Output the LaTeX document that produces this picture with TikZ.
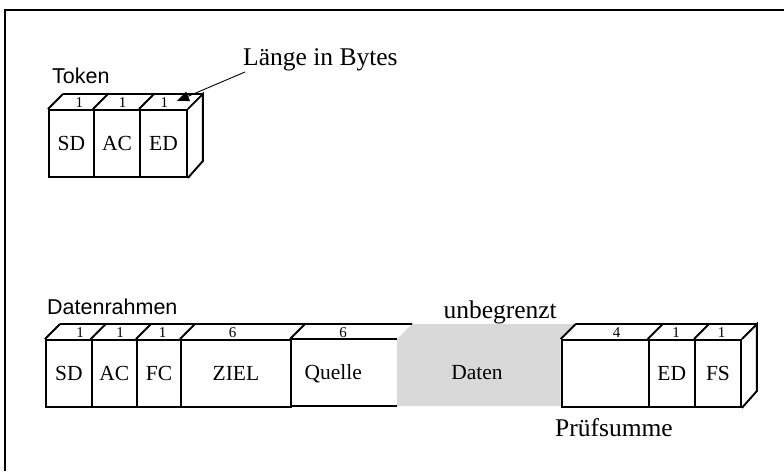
\documentclass[tikz,border=0pt]{standalone}
\usepackage{fontspec}
\setmainfont{Liberation Serif}
\newfontfamily\labelsans{Liberation Sans}
\usetikzlibrary{arrows.meta}

\begin{document}
\begin{tikzpicture}[x=1pt,y=-1pt,
  cell/.style={draw, line width=1.9pt, inner sep=0pt, anchor=north west,
    minimum height=67pt, font=\fontsize{21.5}{24}\selectfont,
    text height=14.2pt, text depth=0pt},
  edge3d/.style={line width=1.9pt},
  bytes/.style={inner sep=0pt, anchor=base, font=\fontsize{15}{17}\selectfont},
  celltext/.style={inner sep=0pt, anchor=base, font=\fontsize{21.5}{24}\selectfont},
  notetext/.style={inner sep=0pt, anchor=base west, font=\fontsize{25.5}{28}\selectfont},
  framelabel/.style={inner sep=0pt, anchor=base west, font=\labelsans\fontsize{21.5}{24}\selectfont}]

\useasboundingbox (0,0) rectangle (784,471);

% page frame (top and left edges)
\draw[line width=2pt] (5,471) -- (5,10) -- (784,10);

% ---------- Token ----------
\node[framelabel] (tokenLabel) at (52,83.3) {Token};
\node[cell, minimum width=45pt] (tSD) at (48,109) {SD};
\node[cell, minimum width=46pt] (tAC) at (93,109) {AC};
\node[cell, minimum width=47pt] (tED) at (139,109) {ED};
\draw[edge3d]
  (tSD.north west) -- ++(15,-15) coordinate (tBackL)
  (tAC.north west) -- ++(15,-15)
  (tED.north west) -- ++(15,-15)
  (tED.north east) -- ++(15,-15) coordinate (tBackR) -- ++(0,67) -- (tED.south east)
  (tBackL) -- (tBackR);
\node[bytes] (tSDn) at (79.3,107.3) {1};
\node[bytes] (tACn) at (122.7,107.3) {1};
\node[bytes] (tEDn) at (164.3,107.3) {1};

% length annotation
\node[notetext] (laenge) at (243,65) {Länge in Bytes};
\coordinate (arrowStart) at (245,72);
\coordinate (arrowTip) at (177,101);
\draw[line width=0.9pt, -{Triangle[length=12pt,width=10pt]}] (arrowStart) -- (arrowTip);

% ---------- Datenrahmen ----------
\node[framelabel] (frameLabel) at (47,314) {Datenrahmen};

% data field (unbounded length)
\fill[gray!30] (397,339) -- (412,324) -- (575.7,324) -- (560.7,339)
  -- (560.7,406) -- (397,406) -- cycle;
\node[celltext] (daten) at (477,379.6) {Daten};
\node[notetext] (unbegrenzt) at (443.3,318) {unbegrenzt};

% header fields
\node[cell, minimum width=45.7pt] (dSD) at (45,339) {SD};
\node[cell, minimum width=45.3pt] (dAC) at (90.7,339) {AC};
\node[cell, minimum width=44pt] (dFC) at (136,339) {FC};
\node[cell, minimum width=110pt] (dZIEL) at (180,339) {ZIEL};
\coordinate (qTL) at (290,339);
\coordinate (qTR) at (397,339);
\coordinate (qBL) at (290,406);
\coordinate (qBR) at (397,406);
\draw[edge3d] (qTL) -- (qTR) (qBL) -- (qBR);
\node[celltext] (quelle) at (333.3,379.6) {Quelle};
\coordinate (dBackR) at (412,324);
\draw[edge3d]
  (dSD.north west) -- ++(15,-15) coordinate (dBackL)
  (dAC.north west) -- ++(15,-15)
  (dFC.north west) -- ++(15,-15)
  (dZIEL.north west) -- ++(15,-15)
  (qTL) -- ++(15,-15)
  (dBackL) -- (dBackR);
\node[bytes] (dSDn) at (80,337.3) {1};
\node[bytes] (dACn) at (120,337.3) {1};
\node[bytes] (dFCn) at (162.7,337.3) {1};
\node[bytes] (dZIELn) at (232.7,337.3) {6};
\node[bytes] (dQn) at (343,337.3) {6};

% trailer fields
\node[cell, minimum width=87pt] (pSum) at (560.7,339) {};
\node[cell, minimum width=46.3pt] (pED) at (647.7,339) {ED};
\node[cell, minimum width=46pt] (pFS) at (694,339) {FS};
\draw[edge3d]
  (pSum.north west) -- ++(15,-15) coordinate (pBackL)
  (pED.north west) -- ++(15,-15)
  (pFS.north west) -- ++(15,-15)
  (pFS.north east) -- ++(15,-15) coordinate (pBackR) -- ++(0,67) -- (pFS.south east)
  (pBackL) -- (pBackR);
\node[bytes] (pSumn) at (616.7,337.3) {4};
\node[bytes] (pEDn) at (676,337.3) {1};
\node[bytes] (pFSn) at (721.7,337.3) {1};
\node[notetext] (pruef) at (555,436) {Prüfsumme};

\end{tikzpicture}
\end{document}
